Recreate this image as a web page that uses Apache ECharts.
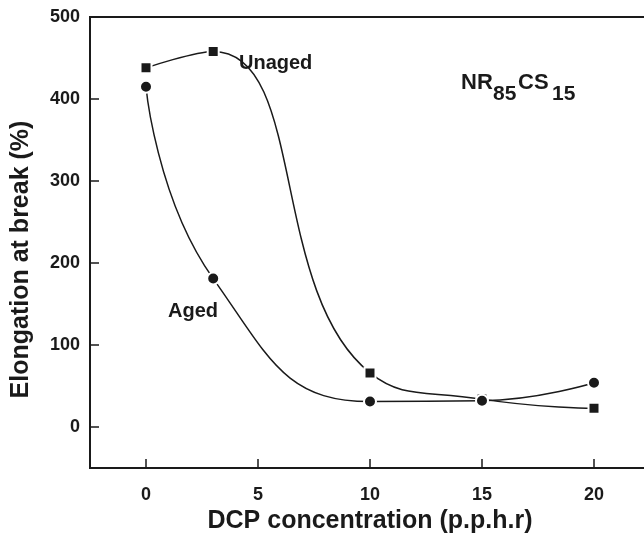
<!DOCTYPE html>
<html><head><meta charset="utf-8">
<script src="https://cdn.jsdelivr.net/npm/echarts@6/dist/echarts.min.js"></script>
<style>html,body{margin:0;padding:0;background:#fff}#c{width:644px;height:541px}</style>
</head><body><div id="c"></div>
<script>
const dcp = [0, 3, 10, 15, 20];
const unaged = [438, 458, 66, 34, 23];
const aged = [415, 181, 31, 32, 54];
const xTicks = [0, 5, 10, 15, 20];
const yTicks = [0, 100, 200, 300, 400, 500];

const chart = echarts.init(document.getElementById('c'), null, {renderer: 'canvas'});
const font = 'Liberation Sans, Arial, sans-serif';
const col = '#1a1a1a';
chart.setOption({
  animation: false,
  backgroundColor: '#fff',
  grid: {left: 90, top: 17, width: 560, height: 451, show: true, borderColor: col, borderWidth: 2,
    backgroundColor: 'transparent', outerBoundsMode: 'none', containLabel: false},
  xAxis: {
    type: 'value', min: -2.5, max: 22.5, interval: 2.5,
    name: 'DCP concentration (p.p.h.r)', nameLocation: 'middle', nameGap: 40,
    nameTextStyle: {fontFamily: font, fontWeight: 'bold', fontSize: 25, color: col},
    axisLine: {show: true, onZero: false, lineStyle: {color: col, width: 2}},
    axisTick: {show: true, inside: true, length: 9, lineStyle: {color: col, width: 1.5},
      customValues: xTicks},
    axisLabel: {fontFamily: font, fontWeight: 'bold', fontSize: 18, color: col, margin: 18,
      customValues: xTicks},
    splitLine: {show: false}
  },
  yAxis: {
    type: 'value', min: -50, max: 500, interval: 50,
    name: 'Elongation at break (%)', nameLocation: 'middle', nameGap: 56, nameRotate: 90,
    nameTextStyle: {fontFamily: font, fontWeight: 'bold', fontSize: 25, color: col, padding: [0, 34, 0, 0]},
    axisLine: {show: true, onZero: false, lineStyle: {color: col, width: 2}},
    axisTick: {show: true, inside: true, length: 9, lineStyle: {color: col, width: 1.5},
      customValues: yTicks},
    axisLabel: {fontFamily: font, fontWeight: 'bold', fontSize: 18, color: col, margin: 10,
      customValues: yTicks},
    splitLine: {show: false}
  },
  series: [
    {name: 'Unaged', type: 'line', smooth: 0.5, data: dcp.map((x, i) => [x, unaged[i]]),
      symbol: 'rect', symbolSize: 11, showAllSymbol: true,
      lineStyle: {color: col, width: 1.5}, itemStyle: {color: col, borderColor: '#fff', borderWidth: 2}},
    {name: 'Aged', type: 'line', smooth: 0.5, data: dcp.map((x, i) => [x, aged[i]]),
      symbol: 'circle', symbolSize: 12, showAllSymbol: true,
      lineStyle: {color: col, width: 1.5}, itemStyle: {color: col, borderColor: '#fff', borderWidth: 2}}
  ],
  graphic: [
    {type: 'text', left: 239, top: 53, style: {text: 'Unaged', font: 'bold 20px ' + font, fill: col}},
    {type: 'text', left: 168, top: 301, style: {text: 'Aged', font: 'bold 20px ' + font, fill: col}},
    {type: 'text', left: 461, top: 72, style: {text: 'NR', font: 'bold 22px ' + font, fill: col}},
    {type: 'text', left: 493, top: 84, style: {text: '85', font: 'bold 21px ' + font, fill: col}},
    {type: 'text', left: 518, top: 72, style: {text: 'CS', font: 'bold 22px ' + font, fill: col}},
    {type: 'text', left: 552, top: 84, style: {text: '15', font: 'bold 21px ' + font, fill: col}}
  ]
});
</script></body></html>
